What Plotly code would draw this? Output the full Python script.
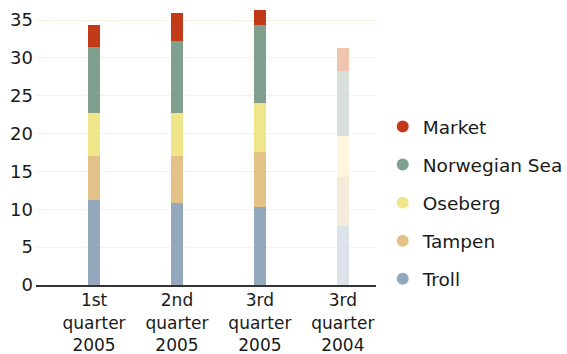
import plotly.graph_objects as go

categories = ["1st<br>quarter<br>2005", "2nd<br>quarter<br>2005", "3rd<br>quarter<br>2005", "3rd<br>quarter<br>2004"]
series_names = ["Troll", "Tampen", "Oseberg", "Norwegian Sea", "Market"]
troll = [11.2, 10.8, 10.3, 7.8]
tampen = [5.8, 6.3, 7.3, 6.5]
oseberg = [5.7, 5.6, 6.5, 5.4]
norwegian_sea = [8.7, 9.6, 10.3, 8.6]
market = [3.0, 3.7, 1.9, 3.0]
y_ticks = [0, 5, 10, 15, 20, 25, 30, 35]

values = [troll, tampen, oseberg, norwegian_sea, market]
colors = ["#93a8bd", "#e2c286", "#efe68a", "#7fa08f", "#c23a17"]
faded = ["#dce3eb", "#f5ebda", "#fbf6dc", "#d7e0da", "#efc5ad"]

fig = go.Figure()
for name, vals, col, fcol in zip(series_names, values, colors, faded):
    fig.add_trace(go.Bar(
        x=list(range(len(categories))), y=vals, name=name,
        marker=dict(color=[col, col, col, fcol], line=dict(width=0)),
        width=0.145, showlegend=False,
    ))

# circular legend entries, top to bottom
for name, col in reversed(list(zip(series_names, colors))):
    fig.add_trace(go.Scatter(
        x=[None], y=[None], mode="markers", name=name,
        marker=dict(color=col, size=11, symbol="circle"),
        legendgroup=name, showlegend=True,
    ))

fig.update_layout(
    barmode="stack",
    width=567, height=354,
    margin=dict(l=36, r=191, t=5, b=69, autoexpand=False),
    plot_bgcolor="white", paper_bgcolor="white",
    font=dict(family="DejaVu Sans", size=17, color="#1a1a1a"),
    showlegend=True,
    legend=dict(
        xref="container", yref="container",
        x=0.675, y=1 - 203 / 354, xanchor="left", yanchor="middle",
        font=dict(size=18.5), tracegroupgap=11, itemsizing="constant",
        maxheight=1.0,
    ),
    xaxis=dict(
        range=[-0.7, 3.4], tickmode="array",
        tickvals=list(range(len(categories))), ticktext=categories,
        showgrid=False, zeroline=False, showline=True, automargin=False,
        linecolor="#333333", linewidth=2, ticks="", tickfont=dict(size=17),
        ticklabelstandoff=-1,
    ),
    yaxis=dict(
        range=[0, 37], tickvals=y_ticks, showgrid=True, automargin=False,
        gridcolor="#faf0e2", gridwidth=1, zeroline=False, showline=False,
        ticks="", tickfont=dict(size=18), ticklabelstandoff=2,
    ),
)

fig.write_html("out.html")
